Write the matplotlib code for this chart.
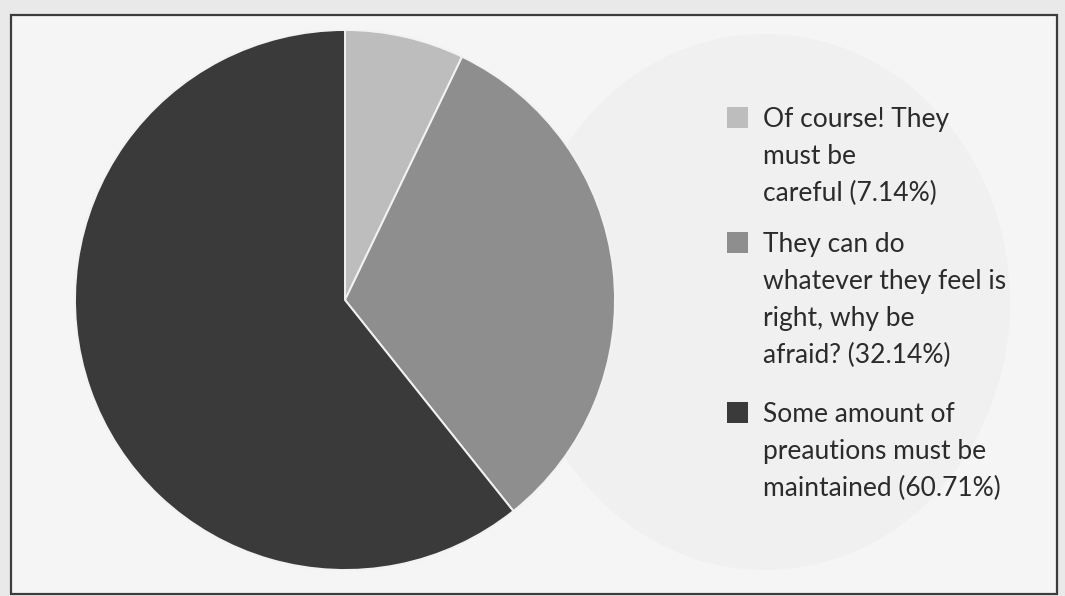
import matplotlib
matplotlib.use("Agg")
import matplotlib.pyplot as plt
from matplotlib.patches import Rectangle, Ellipse

# ---- data ----
labels = [
    "Of course! They\nmust be\ncareful",
    "They can do\nwhatever they feel is\nright, why be\nafraid?",
    "Some amount of\npreautions must be\nmaintained",
]
values = [7.14, 32.14, 60.71]
colors = ["#bdbdbd", "#8e8e8e", "#3a3a3a"]

W, H = 1065, 596
fig = plt.figure(figsize=(W / 100, H / 100), dpi=100)
fig.patch.set_facecolor("#e9e9e9")


def fx(x):
    return x / W


def fy(y):
    return 1 - y / H


# frame and inner background
fig.patches.append(Rectangle((fx(11), fy(594)), fx(1057) - fx(11), fy(15) - fy(594),
                             transform=fig.transFigure, facecolor="#f5f5f5",
                             edgecolor="#3c3c3c", linewidth=1.6, zorder=0))
# faint show-through disc of the scan
fig.patches.append(Ellipse((fx(765), fy(302)), 2 * 245 / W, 2 * 268 / H,
                           transform=fig.transFigure, facecolor="#f0f0f0",
                           edgecolor="none", zorder=0.5))

# pie
cx, cy, r = 345, 300, 270
ax = fig.add_axes([fx(cx - r), fy(cy + r), 2 * r / W, 2 * r / H])
ax.set_zorder(2)
ax.patch.set_visible(False)
ax.pie(values, colors=colors, startangle=90, counterclock=False, radius=1,
       wedgeprops=dict(edgecolor="#f2f2f2", linewidth=1.4))
ax.set_xlim(-1.0, 1.0)
ax.set_ylim(-1.0, 1.0)
ax.set_aspect("auto")
ax.axis("off")

# legend (drawn manually so the marker aligns with the first line)
font = dict(family="Lato", fontsize=19, color="#2b2b2b")
first_line_center = [118, 243, 413]
line_gap = 37
text_x = 763
for lab, v, c, yc in zip(labels, values, colors, first_line_center):
    full = f"{lab} ({v:.2f}%)"
    for i, line in enumerate(full.split("\n")):
        fig.text(fx(text_x), fy(yc + i * line_gap + 9), line, ha="left",
                 va="baseline", zorder=3, **font)
    s = 21
    fig.patches.append(Rectangle((fx(727), fy(yc + s / 2 - 1)), s / W, s / H,
                                 transform=fig.transFigure, facecolor=c,
                                 edgecolor="none", zorder=3))

fig.savefig("out.png", dpi=100, facecolor=fig.get_facecolor())
